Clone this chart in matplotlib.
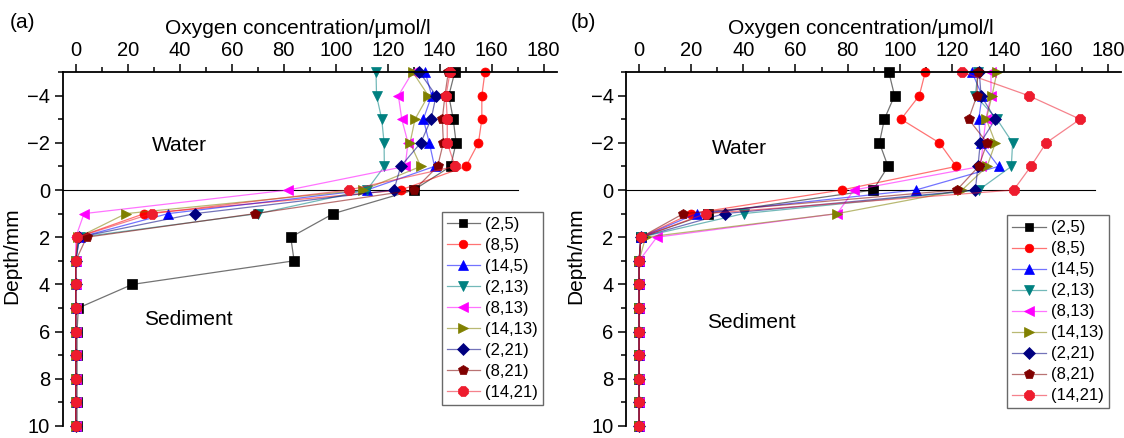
import numpy as np
import matplotlib
matplotlib.use('Agg')
import matplotlib.pyplot as plt
from matplotlib.ticker import MultipleLocator

plt.rcParams['font.family'] = ['Liberation Sans', 'DejaVu Sans']

# depth below the sediment surface (negative = water column)
depth = [-5, -4, -3, -2, -1, 0, 1, 2, 3, 4, 5, 6, 7, 8, 9, 10]

labels = ['(2,5)', '(8,5)', '(14,5)', '(2,13)', '(8,13)', '(14,13)',
          '(2,21)', '(8,21)', '(14,21)']
colors = ['#000000', '#ff0000', '#0000ff', '#008080', '#ff00ff',
          '#808000', '#000080', '#800000', '#ee1c2e']
markers = ['s', 'o', '^', 'v', '<', '>', 'D', 'p', '8']
msizes = [6.5, 6.5, 7, 7, 7, 7, 6, 7.5, 7.5]

# panel (a) profiles, umol/l
a_25 = [145.8, 143.5, 145.2, 146.3, 144.2, 130, 99.1, 82.7, 84, 21.8, 1, 0.5, 0.5, 0.5, 0.5, 0.5]
a_85 = [157.4, 156.2, 156.2, 154.9, 150.1, 125, 26.4, 0.6, 0, 0, 0, 0, 0, 0, 0, 0]
a_145 = [134.4, 136.9, 133.7, 136, 138, 112, 35.6, 1.5, 0, 0, 0, 0, 0, 0, 0, 0]
a_213 = [115.5, 115.7, 117.7, 118.6, 118.7, 112, 70.2, 1.5, 0, 0, 0, 0, 0, 0, 0, 0]
a_813 = [129.6, 124.1, 125.4, 127.8, 126.7, 81.8, 3.2, 0, 0, 0, 0, 0, 0, 0, 0, 0]
a_1413 = [129.6, 135.6, 130.5, 128.6, 132.7, 110.6, 19.3, 1, 0, 0, 0, 0, 0, 0, 0, 0]
a_221 = [132.2, 138.6, 136.7, 132.7, 125, 122.4, 45.9, 1.2, 0, 0, 0, 0, 0, 0, 0, 0]
a_821 = [143.3, 142, 141, 141.4, 139.2, 130.2, 69, 4.2, 0, 0, 0, 0, 0, 0, 0, 0]
a_1421 = [144, 142.4, 142.9, 142.9, 145.9, 105, 29.2, 0.6, 0, 0, 0, 0, 0, 0, 0, 0]

# panel (b) profiles, umol/l
b_25 = [95.8, 98, 94.1, 92.2, 95.5, 89.8, 26.4, 0.7, 0, 0, 0, 0, 0, 0, 0, 0]
b_85 = [109.8, 107.5, 100.5, 115.2, 121.7, 77.7, 20, 0.7, 0, 0, 0, 0, 0, 0, 0, 0]
b_145 = [127.7, 131.6, 130.3, 131, 137.9, 106.2, 22.1, 0.7, 0, 0, 0, 0, 0, 0, 0, 0]
b_213 = [130, 129, 137.3, 143.3, 142.8, 130.3, 40.1, 0.7, 0, 0, 0, 0, 0, 0, 0, 0]
b_813 = [135, 135, 133, 132, 131, 82.4, 76, 6.8, 0, 0, 0, 0, 0, 0, 0, 0]
b_1413 = [137.3, 135.4, 133.2, 136.7, 133.5, 123.9, 76, 2.5, 0, 0, 0, 0, 0, 0, 0, 0]
b_221 = [130.5, 131.2, 136.7, 130.9, 130, 129, 32.8, 0.7, 0, 0, 0, 0, 0, 0, 0, 0]
b_821 = [129.9, 129.6, 126.4, 133.5, 130.3, 121.9, 17, 0.7, 0, 0, 0, 0, 0, 0, 0, 0]
b_1421 = [123.9, 149.4, 169.2, 156.2, 150.3, 143.7, 25.6, 0.7, 0, 0, 0, 0, 0, 0, 0, 0]

series_a = [a_25, a_85, a_145, a_213, a_813, a_1413, a_221, a_821, a_1421]
series_b = [b_25, b_85, b_145, b_213, b_813, b_1413, b_221, b_821, b_1421]


def draw_panel(ax, series, tag, line_end, water_xy, sed_xy, leg_anchor):
    for vals, lab, c, m, ms in zip(series, labels, colors, markers, msizes):
        rgba = matplotlib.colors.to_rgba(c, 0.55)
        ax.plot(vals, depth, color=rgba, lw=0.9, marker=m, ms=ms,
                mfc=c, mec=c, mew=0.5, label=lab, clip_on=False)
    ax.plot([-5, line_end], [0, 0], color='black', lw=0.8, zorder=0)

    ax.set_xlim(-5, 185)
    ax.set_ylim(10, -5)
    ax.xaxis.set_ticks_position('top')
    ax.xaxis.set_minor_locator(MultipleLocator(10))
    ax.set_xticks(np.arange(0, 181, 20))
    ax.set_yticks(np.arange(-4, 11, 2))
    ax.yaxis.set_minor_locator(MultipleLocator(1))
    ax.tick_params(which='major', direction='out', length=6, width=1.1, labelsize=14.5, pad=3)
    ax.tick_params(which='minor', direction='out', length=3.5, width=1.1)
    for s in ['right', 'bottom']:
        ax.spines[s].set_visible(False)
    for s in ['left', 'top']:
        ax.spines[s].set_linewidth(1.3)
    ax.set_xlabel('Oxygen concentration/μmol/l', fontsize=15)
    ax.xaxis.set_label_coords(0.475, 1.15)
    ax.set_ylabel('Depth/mm', fontsize=15)
    ax.yaxis.set_label_coords(-0.083, 0.48)

    ax.text(water_xy[0], water_xy[1], 'Water', fontsize=15, ha='center', va='center')
    ax.text(sed_xy[0], sed_xy[1], 'Sediment', fontsize=15, ha='center', va='center')

    leg = ax.legend(loc='upper left', bbox_to_anchor=leg_anchor, fontsize=12,
                    frameon=True, fancybox=False, handlelength=2.0,
                    handletextpad=0.3, labelspacing=0.36, borderpad=0.3,
                    borderaxespad=0, markerscale=0.95)
    leg.get_frame().set_edgecolor('#444444')
    leg.get_frame().set_linewidth(1.0)

    ax.figure.text(*tag[1], tag[0], fontsize=15, ha='left', va='center')


fig = plt.figure(figsize=(11.24, 4.38), dpi=100)
ax1 = fig.add_axes([0.0558, 0.0274, 0.4395, 0.8082])
ax2 = fig.add_axes([0.557, 0.0274, 0.4406, 0.8082])

draw_panel(ax1, series_a, ('(a)', (0.009, 0.948)), 170, (40, -1.9), (43.3, 5.5), (0.767, 0.605))
draw_panel(ax2, series_b, ('(b)', (0.508, 0.948)), 175, (38.6, -1.75), (43.2, 5.6), (0.770, 0.595))

fig.savefig('out.png', dpi=100)
